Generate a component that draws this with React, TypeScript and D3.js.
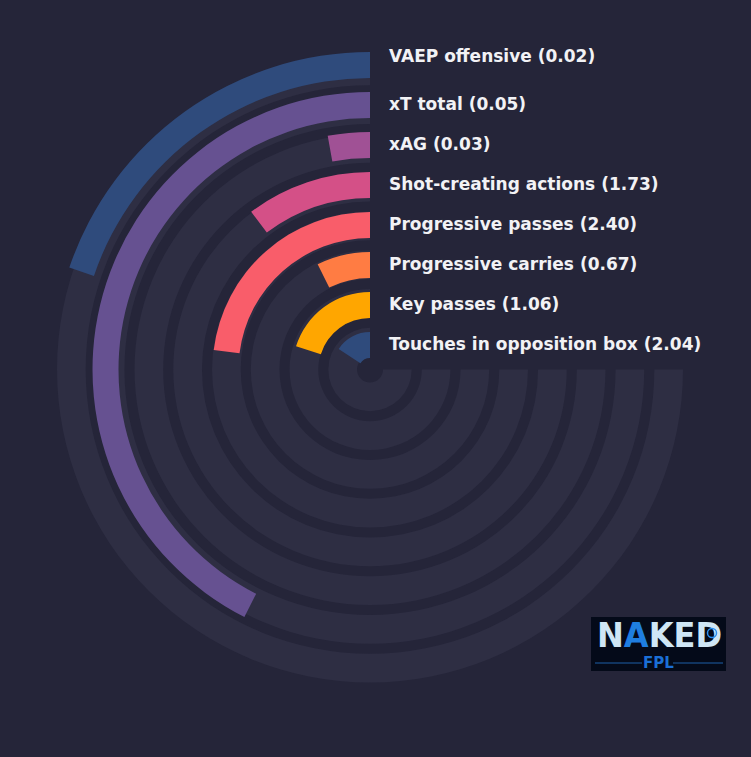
import React, { useEffect, useRef } from 'react';
import * as d3 from 'd3';

// metric names, raw per-90 values shown in labels, and the percentile that sets each bar's sweep
const metrics = [
  'VAEP offensive',
  'xT total',
  'xAG',
  'Shot-creating actions',
  'Progressive passes',
  'Progressive carries',
  'Key passes',
  'Touches in opposition box',
];
const rawValues = [0.02, 0.05, 0.03, 1.73, 2.4, 0.67, 1.06, 2.04];
const percentiles = [26.4, 56.7, 3.8, 13.7, 30.7, 9.8, 26.9, 21.0];
const palette = ['#2f4b7c', '#665191', '#a05195', '#d45087', '#f95d6a', '#ff7c43', '#ffa600'];

const BG = '#252539';
const TRACK = '#2e2e43';

export default function App() {
  const svgRef = useRef<SVGSVGElement>(null);

  useEffect(() => {
    document.body.style.margin = '0';
    document.body.style.background = BG;
    if (!svgRef.current) return;

    const width = 751;
    const height = 757;
    const cx = 370;
    const cy = 369.5;
    const maxAngle = (270 * Math.PI) / 180;

    const svg = d3.select(svgRef.current);
    svg.selectAll('*').remove();
    svg.attr('width', width).attr('height', height);
    svg.append('rect').attr('width', width).attr('height', height).attr('fill', BG);

    const g = svg.append('g').attr('transform', `translate(${cx},${cy})`);

    // outermost metric sits on the outermost ring
    const order = metrics.slice().reverse();
    const trackR = d3.scaleBand<string>().domain(order).range([13, 313]).paddingInner(0.26).paddingOuter(0);
    const barR = d3.scaleBand<string>().domain(order).range([11.5, 317.5]).paddingInner(0.35).paddingOuter(0);
    const angle = d3.scaleLinear().domain([0, 100]).range([0, maxAngle]);
    const color = d3.scaleOrdinal<string, string>().domain(metrics).range(palette);

    const arc = d3.arc<any>();

    g.selectAll('.track')
      .data(metrics)
      .enter()
      .append('path')
      .attr('class', 'track')
      .attr('fill', TRACK)
      .attr('d', (d) =>
        arc({
          innerRadius: trackR(d)!,
          outerRadius: trackR(d)! + trackR.bandwidth(),
          startAngle: -maxAngle,
          endAngle: 0,
        })
      );

    g.selectAll('.bar')
      .data(metrics)
      .enter()
      .append('path')
      .attr('class', 'bar')
      .attr('fill', (d) => color(d))
      .attr('d', (d, i) =>
        arc({
          innerRadius: barR(d)!,
          outerRadius: barR(d)! + barR.bandwidth(),
          startAngle: -angle(percentiles[i]),
          endAngle: 0,
        })
      );

    g.selectAll('.label')
      .data(metrics)
      .enter()
      .append('text')
      .attr('class', 'label')
      .attr('x', 19)
      .attr('y', (d, i) => -(barR(d)! + barR.bandwidth()) + (i === 0 ? 9.8 : 18))
      .attr('fill', '#f2f2f5')
      .attr('font-family', 'DejaVu Sans, sans-serif')
      .attr('font-weight', 'bold')
      .attr('font-size', 17)
      .text((d, i) => `${d} (${rawValues[i].toFixed(2)})`);

    // logo
    const logo = svg.append('g').attr('transform', 'translate(591,617)');
    logo.append('rect').attr('width', 135).attr('height', 54).attr('fill', '#040a19');
    const naked = logo
      .append('text')
      .attr('x', 6)
      .attr('y', 30)
      .attr('font-family', 'DejaVu Sans, sans-serif')
      .attr('font-weight', 'bold')
      .attr('font-size', 33)
      .attr('textLength', 125)
      .attr('lengthAdjust', 'spacingAndGlyphs')
      .attr('fill', '#cfe6f5');
    naked.append('tspan').text('N');
    naked.append('tspan').attr('fill', '#1f7ee0').text('A');
    naked.append('tspan').text('KED');
    logo.append('circle').attr('cx', 121).attr('cy', 16).attr('r', 4.5).attr('fill', 'none').attr('stroke', '#2a8ff0').attr('stroke-width', 1.5);
    logo.append('line').attr('x1', 4).attr('x2', 51).attr('y1', 46).attr('y2', 46).attr('stroke', '#1c5ea8').attr('stroke-width', 1);
    logo.append('line').attr('x1', 82).attr('x2', 132).attr('y1', 46).attr('y2', 46).attr('stroke', '#1c5ea8').attr('stroke-width', 1);
    logo
      .append('text')
      .attr('x', 67.5)
      .attr('y', 51)
      .attr('text-anchor', 'middle')
      .attr('font-family', 'DejaVu Sans, sans-serif')
      .attr('font-weight', 'bold')
      .attr('font-size', 15)
      .attr('fill', '#1b6fd6')
      .text('FPL');
  }, []);

  return <svg ref={svgRef} style={{ position: 'absolute', left: 0, top: 0, display: 'block' }} />;
}
